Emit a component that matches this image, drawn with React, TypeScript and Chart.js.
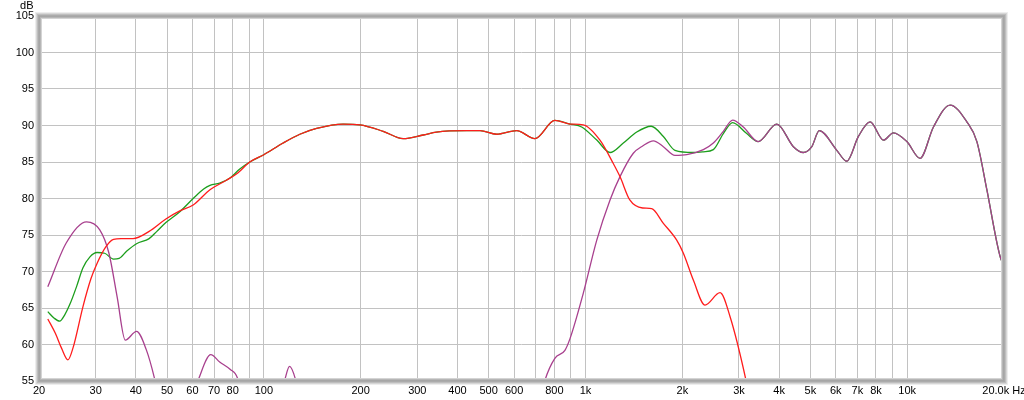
import React, { useEffect, useRef } from "react";
import { Chart, registerables } from "chart.js";

Chart.register(...registerables);

// ---- data ----
const greenFreq = [21.3, 22.3, 23.2, 24.0, 25.0, 26.2, 27.4, 28.8, 30.3, 32.0, 34.1, 35.5, 37.5, 40.2, 44.0, 46.5, 49.6, 54.8, 60.3, 65.0, 68.0, 72.9, 78.5, 84, 90.4, 100, 114.8, 129.4, 145.9, 176.4, 198.9, 235, 271, 313, 344, 427, 470, 529, 611, 696, 803, 895, 973, 1084, 1192, 1311, 1443, 1600, 1746, 1897, 2165, 2325, 2497, 2682, 2867, 3171, 3440, 3933, 4429, 4757, 5052, 5330, 6043, 6490, 7053, 7670, 8441, 9060, 9977, 10970, 12070, 13600, 15330, 16470, 17690, 19000, 19600, 20000];
const greenDb = [64.5, 63.6, 63.2, 64.0, 65.6, 68.0, 70.5, 72.0, 72.6, 72.5, 71.7, 71.8, 72.8, 73.8, 74.5, 75.5, 76.7, 78.2, 80.0, 81.3, 81.8, 82.1, 82.8, 84.0, 85.0, 86.0, 87.6, 88.8, 89.6, 90.2, 90.1, 89.2, 88.2, 88.7, 89.1, 89.3, 89.3, 88.8, 89.3, 88.2, 90.7, 90.2, 89.8, 88.0, 86.3, 87.6, 89.1, 89.9, 88.5, 86.6, 86.3, 86.4, 86.7, 88.9, 90.4, 88.9, 87.8, 90.2, 87.1, 86.3, 87.1, 89.3, 86.6, 85.1, 88.5, 90.5, 88.0, 89.0, 87.8, 85.5, 89.8, 92.8, 90.5, 87.8, 81.2, 74.0, 71.6, 71.1];

const redFreq = [21.3, 22.5, 23.5, 24.6, 25.5, 27.4, 29.0, 30.3, 32.3, 34.1, 36.0, 39.2, 44.0, 49.6, 54.8, 60.3, 68.0, 76.5, 83, 90.4, 100, 114.8, 129.4, 145.9, 176.4, 198.9, 235, 271, 313, 344, 427, 470, 529, 611, 696, 803, 895, 984, 1109, 1220, 1280, 1373, 1505, 1606, 1746, 1921, 2015, 2165, 2353, 2620, 2815, 3155, 3500];
const redDb = [63.5, 61.5, 59.5, 57.9, 59.5, 65.2, 69.0, 71.1, 73.4, 74.4, 74.5, 74.5, 75.5, 77.2, 78.3, 79.1, 81.2, 82.5, 83.5, 85.0, 86.0, 87.6, 88.8, 89.6, 90.2, 90.1, 89.2, 88.2, 88.7, 89.1, 89.3, 89.3, 88.8, 89.3, 88.2, 90.7, 90.2, 90.1, 88.0, 84.8, 83.0, 79.8, 78.7, 78.6, 76.6, 74.3, 72.5, 68.8, 65.4, 67.1, 63.8, 55.1, 45];

const purpleFreq = [21.3, 24.3, 28.1, 30.9, 33.0, 35.0, 37.1, 40.2, 43.1, 45.7, 48, 58, 62.6, 68.4, 72.9, 78.5, 82.8, 86, 112, 116.6, 120.2, 125.3, 130, 700, 748, 803, 863, 895, 984, 1084, 1192, 1280, 1408, 1505, 1626, 1746, 1897, 2065, 2325, 2497, 2682, 2867, 3095, 3440, 3933, 4429, 4757, 5052, 5330, 6043, 6490, 7053, 7670, 8441, 9060, 9977, 10970, 12070, 13600, 15330, 16470, 17690, 19000, 19600, 20000];
const purpleDb = [67.9, 73.9, 76.8, 75.7, 72.5, 66.5, 60.6, 61.8, 59.3, 55.4, 51, 51, 55.2, 58.6, 57.6, 56.6, 55.4, 52, 52, 55.4, 57.0, 55.3, 52, 50, 55.1, 58.1, 59.2, 60.8, 67.0, 74.3, 79.8, 83.0, 86.2, 87.2, 87.9, 87.1, 85.9, 86.0, 86.7, 87.6, 89.2, 90.75, 89.8, 87.8, 90.2, 87.1, 86.3, 87.1, 89.3, 86.6, 85.1, 88.5, 90.5, 88.0, 89.0, 87.8, 85.5, 89.8, 92.8, 90.5, 87.8, 81.2, 74.0, 71.6, 71.1];

const xTicks = [20, 30, 40, 50, 60, 70, 80, 90, 100, 200, 300, 400, 500, 600, 700, 800, 900, 1000, 2000, 3000, 4000, 5000, 6000, 7000, 8000, 9000, 10000, 20000];
const xTickLabels = ["20", "30", "40", "50", "60", "70", "80", "", "100", "200", "300", "400", "500", "600", "", "800", "", "1k", "2k", "3k", "4k", "5k", "6k", "7k", "8k", "", "10k", "20.0k Hz"];

const toPoints = (f: number[], v: number[]) => f.map((x, i) => ({ x, y: v[i] }));

const FONT = "'Liberation Sans', Arial, sans-serif";

const framePlugin = {
  id: "frame",
  afterDraw(chart: any) {
    const { ctx, chartArea } = chart;
    const L = Math.round(chartArea.left);
    const T = Math.round(chartArea.top);
    const R = Math.round(chartArea.right);
    const B = Math.round(chartArea.bottom);
    const colors: Record<number, string> = {
      4: "#ededed",
      3: "#d6d6d6",
      2: "#bebebe",
      1: "#ababab",
      0: "#a6a6a6",
      [-1]: "#b6b6b6",
      [-2]: "#d4d4d4",
    };
    ctx.save();
    ctx.lineWidth = 1;
    for (let d = 4; d >= -2; d--) {
      ctx.strokeStyle = colors[d];
      ctx.strokeRect(L - d + 0.5, T - d + 0.5, R - L + 2 * d - 1, B - T + 2 * d - 1);
    }
    ctx.fillStyle = "#000";
    ctx.font = `11px ${FONT}`;
    ctx.textAlign = "right";
    ctx.textBaseline = "middle";
    ctx.fillText("dB", 33.5, 6);
    ctx.restore();
  },
};

export default function App() {
  const ref = useRef<HTMLCanvasElement>(null);
  useEffect(() => {
    if (!ref.current) return;
    const chart = new Chart(ref.current, {
      type: "line",
      data: {
        datasets: [
          {
            data: toPoints(redFreq, redDb),
            borderColor: "#ff1c1c",
            borderWidth: 1.3,
            pointRadius: 0,
            cubicInterpolationMode: "monotone",
            fill: false,
          },
          {
            data: toPoints(purpleFreq, purpleDb),
            borderColor: "#a8408e",
            borderWidth: 1.3,
            pointRadius: 0,
            cubicInterpolationMode: "monotone",
            fill: false,
          },
          {
            data: toPoints(greenFreq, greenDb),
            borderColor: "#1c9e1c",
            borderWidth: 1.3,
            pointRadius: 0,
            cubicInterpolationMode: "monotone",
            fill: false,
          },
        ],
      },
      options: {
        animation: false,
        responsive: false,
        events: [],
        layout: { padding: { top: 16, right: 20, left: 0, bottom: 0 } },
        plugins: { legend: { display: false }, tooltip: { enabled: false } },
        scales: {
          x: {
            type: "logarithmic",
            min: 20,
            max: 20000,
            afterBuildTicks: (scale: any) => {
              scale.ticks = xTicks.map((v) => ({ value: v }));
            },
            afterFit: (scale: any) => {
              scale.height = 19;
              scale.paddingLeft = 0;
              scale.paddingRight = 0;
            },
            grid: { color: "#c2c2c2", lineWidth: 1, drawTicks: false },
            border: { display: false },
            ticks: {
              autoSkip: false,
              maxRotation: 0,
              minRotation: 0,
              padding: 3,
              color: "#000",
              font: { family: FONT, size: 11 },
              callback: (value: any) => {
                const i = xTicks.indexOf(Number(value));
                return i >= 0 ? xTickLabels[i] : "";
              },
            },
          },
          y: {
            type: "linear",
            min: 55,
            max: 105,
            afterFit: (scale: any) => {
              scale.width = 39;
            },
            grid: { color: "#c2c2c2", lineWidth: 1, drawTicks: false },
            border: { display: false },
            ticks: {
              stepSize: 5,
              padding: 5,
              color: "#000",
              font: { family: FONT, size: 11 },
            },
          },
        },
      },
      plugins: [framePlugin],
    } as any);
    return () => chart.destroy();
  }, []);
  return (
    <div style={{ position: "absolute", left: 0, top: 0, width: 1024, height: 400, background: "#fff" }}>
      <canvas ref={ref} width={1024} height={400} style={{ display: "block" }} />
    </div>
  );
}
